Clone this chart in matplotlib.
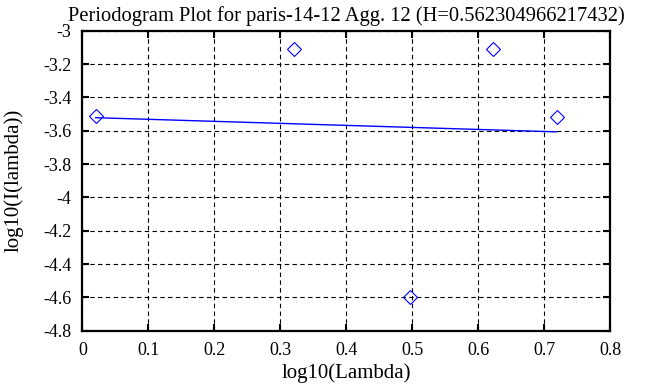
import matplotlib

matplotlib.use("Agg")
import matplotlib.pyplot as plt

# periodogram points (log10 frequency vs log10 intensity)
log_lambda = [0.020, 0.321, 0.497, 0.622, 0.719]
log_intensity = [-3.512, -3.112, -4.600, -3.112, -3.515]

# least-squares fit line endpoints
fit_x = [0.020, 0.719]
fit_y = [-3.522, -3.607]

xticks = [0, 0.1, 0.2, 0.3, 0.4, 0.5, 0.6, 0.7, 0.8]
yticks = [-3, -3.2, -3.4, -3.6, -3.8, -4, -4.2, -4.4, -4.6, -4.8]

plt.rcParams["font.family"] = ["Liberation Serif", "DejaVu Serif"]
plt.rcParams["axes.unicode_minus"] = False

fig = plt.figure(figsize=(6.63, 3.87), dpi=100)
ax = fig.add_axes([0.1244, 0.1455, 0.7956, 0.7752])

ax.plot(fit_x, fit_y, c="#0000ff", lw=1.0, zorder=3)
ax.plot(log_lambda, log_intensity, ls="none", marker="D", ms=7,
        mfc="none", mec="#0000ff", mew=0.8, zorder=4)

ax.set_xlim(0, 0.8)
ax.set_ylim(-4.8, -3)
ax.set_xticks(xticks)
ax.set_yticks(yticks)
ax.set_xticklabels([f"{t:g}" for t in xticks])
ax.set_yticklabels([f"{t:g}" for t in yticks])
ax.tick_params(direction="in", length=5, width=1.5, top=True, right=True,
               labelsize=13, pad=8, colors="black")
for sp in ax.spines.values():
    sp.set_linewidth(1.6)
ax.grid(True, color="black", lw=0.8, ls=(0, (4, 3)))

ax.set_xlabel("log10(Lambda)", fontsize=15, labelpad=3)
ax.set_ylabel("log10(I(lambda))", fontsize=15, labelpad=14)
ax.set_title("Periodogram Plot for paris-14-12 Agg. 12 (H=0.562304966217432)",
             fontsize=14.8, pad=7)

fig.savefig("out.png", dpi=100)
